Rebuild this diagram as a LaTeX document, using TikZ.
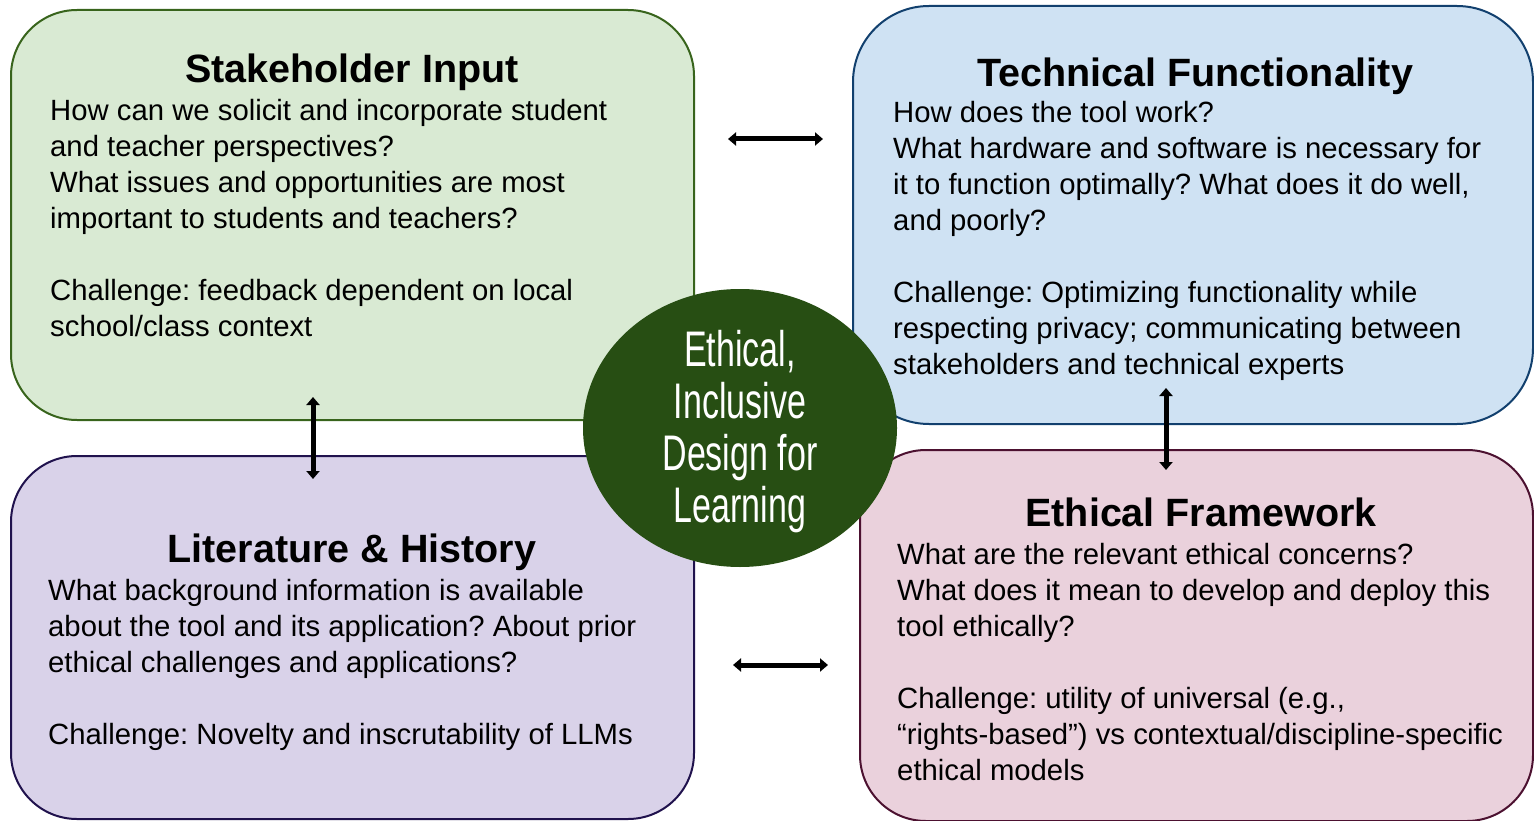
\documentclass[tikz,border=0pt]{standalone}
\usepackage{fontspec}
\setmainfont{Liberation Sans}
\newfontfamily\condfont{Liberation Sans}[FakeStretch=0.68]
\usetikzlibrary{arrows.meta,shapes.geometric}
\definecolor{gfill}{HTML}{D9EAD3}\definecolor{gline}{HTML}{38641C}
\definecolor{bfill}{HTML}{CFE2F3}\definecolor{bline}{HTML}{12406E}
\definecolor{pfill}{HTML}{D9D2E9}\definecolor{pline}{HTML}{20124D}
\definecolor{rfill}{HTML}{EAD1DC}\definecolor{rline}{HTML}{4C1130}
\definecolor{circ}{HTML}{274E13}
\frenchspacing
\begin{document}
\begin{tikzpicture}[x=1pt,y=-1pt,
  box/.style={line width=2pt,rounded corners=66pt},
  ttl/.style={anchor=base,inner sep=0pt,font=\bfseries\fontsize{39.5}{44}\selectfont},
  body/.style={anchor=base west,inner sep=0pt,align=left,font=\fontsize{29.3}{36}\selectfont},
  dbl/.style={line width=5pt,{Triangle[width=13pt,length=8pt]}-{Triangle[width=13pt,length=8pt]}}]
\useasboundingbox (0,0) rectangle (1534,821);
\draw[box,fill=gfill,draw=gline] (11,10) rectangle (694,420);
\draw[box,fill=bfill,draw=bline,rounded corners=76pt] (853,6) rectangle (1533,424);
\draw[box,fill=pfill,draw=pline] (11,456) rectangle (694,819);
\draw[box,fill=rfill,draw=rline] (860,450) rectangle (1533,821);
\node[ellipse,fill=circ,minimum width=314pt,minimum height=278pt,inner sep=0pt] (c) at (740,428) {};
\node[anchor=base,inner sep=0pt,align=center,text=white,font=\condfont\fontsize{50}{52}\selectfont] (ct) at (740,522) {Ethical,\\Inclusive\\Design for\\Learning};
% titles
\node[ttl] (t1) at (352,83) {Stakeholder Input};
\node[ttl] (t2) at (1195,87) {Technical Functionality};
\node[ttl] (t3) at (352,562) {Literature \& History};
\node[ttl] (t4) at (1201,526) {Ethical Framework};
% bodies (base anchor = last line)
\node[body] (b1) at (50,336) {How can we solicit and incorporate student\\and teacher perspectives?\\What issues and opportunities are most\\important to students and teachers?\\[36pt]Challenge: feedback dependent on local\\school/class context};
\node[body] (b2) at (893,374) {How does the tool work?\\What hardware and software is necessary for\\it to function optimally? What does it do well,\\and poorly?\\[36pt]Challenge: Optimizing functionality while\\respecting privacy; communicating between\\stakeholders and technical experts};
\node[body] (b3) at (48,744) {What background information is available\\about the tool and its application? About prior\\ethical challenges and applications?\\[36pt]Challenge: Novelty and inscrutability of LLMs};
\node[body] (b4) at (897,780) {What are the relevant ethical concerns?\\What does it mean to develop and deploy this\\tool ethically?\\[36pt]Challenge: utility of universal (e.g.,\\“rights-based”) vs contextual/discipline-specific\\ethical models};
% arrows
\coordinate (a1) at (728,139); \coordinate (a2) at (823,139);
\coordinate (a3) at (313,397); \coordinate (a4) at (313,479);
\coordinate (a5) at (1166,388); \coordinate (a6) at (1166,470);
\coordinate (a7) at (733,665); \coordinate (a8) at (828,665);
\draw[dbl] (a1) -- (a2);
\draw[dbl] (a3) -- (a4);
\draw[dbl] (a5) -- (a6);
\draw[dbl] (a7) -- (a8);
\end{tikzpicture}
\end{document}
